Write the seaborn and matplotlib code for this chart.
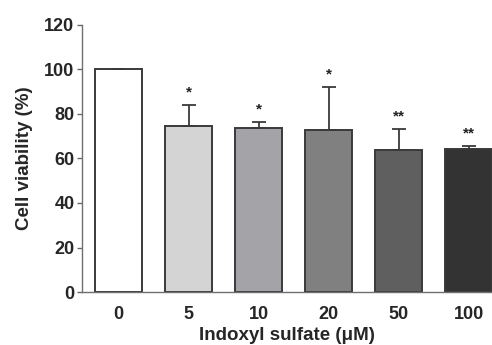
import numpy as np
import pandas as pd
import matplotlib
matplotlib.use("Agg")
import matplotlib.pyplot as plt
import seaborn as sns

# data
doses = ["0", "5", "10", "20", "50", "100"]
viability = [100.0, 74.5, 73.5, 72.8, 63.6, 64.2]
sd_upper = [0.0, 9.6, 2.8, 19.5, 9.7, 1.3]
stars = ["", "*", "*", "*", "**", "**"]
bar_colors = ["#ffffff", "#d4d4d4", "#a3a3a8", "#808080", "#5f5f5f", "#333333"]

df = pd.DataFrame({"dose": doses, "viability": viability})

sns.set_style("white")
plt.rcParams["font.family"] = ["Liberation Sans", "DejaVu Sans"]
plt.rcParams["font.weight"] = "bold"

fig = plt.figure(figsize=(4.92, 3.45), dpi=100)
ax = fig.add_axes([0.1667, 0.1536, 0.8333, 0.774])

sns.barplot(data=df, x="dose", y="viability", hue="dose", order=doses,
            hue_order=doses, palette=bar_colors, legend=False, width=0.67,
            edgecolor="#3a3a3a", linewidth=1.4, saturation=1, ax=ax)

x = np.arange(len(doses))
ax.errorbar(x, viability, yerr=[np.zeros(len(doses)), sd_upper], fmt="none",
            ecolor="#3a3a3a", elinewidth=1.3, capsize=5, capthick=1.3)

for xi, v, s, t in zip(x, viability, sd_upper, stars):
    if t:
        ax.text(xi, v + s + 2.5, t, ha="center", va="bottom",
                fontsize=11, fontweight="bold", color="#222222")

ax.set_ylim(0, 120)
ax.set_xlim(-0.52, 5.33)
ax.set_yticks([0, 20, 40, 60, 80, 100, 120])
ax.set_xlabel("Indoxyl sulfate (\u03bcM)", fontsize=13.5, fontweight="bold", labelpad=3)
ax.set_ylabel("Cell viability (%)", fontsize=13.5, fontweight="bold", labelpad=8)
ax.tick_params(axis="y", direction="out", length=3.5, width=1, color="#666666",
               labelsize=13, pad=2, left=True)
ax.tick_params(axis="x", length=0, labelsize=13, pad=10)
for lab in ax.get_xticklabels() + ax.get_yticklabels():
    lab.set_fontweight("bold")

sns.despine(ax=ax)
for side in ["left", "bottom"]:
    ax.spines[side].set_color("#707070")
    ax.spines[side].set_linewidth(1.0)

fig.savefig("out.png", dpi=100)
